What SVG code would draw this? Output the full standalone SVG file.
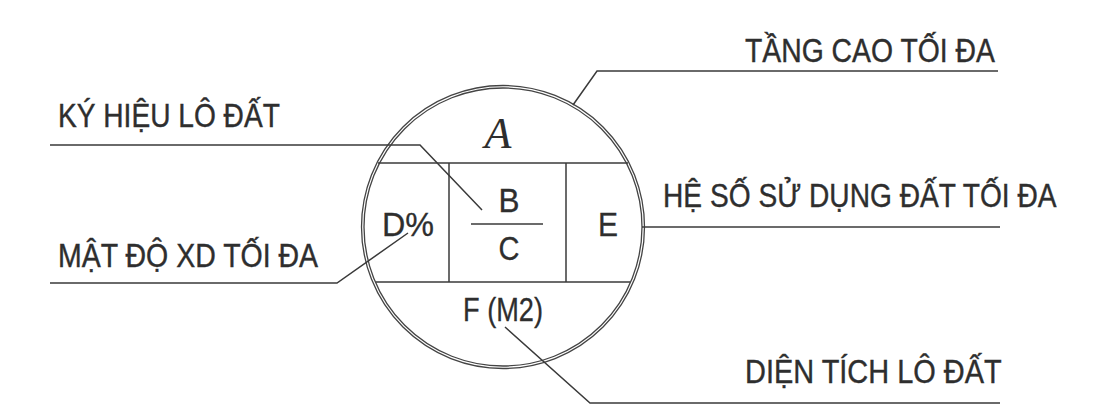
<svg xmlns="http://www.w3.org/2000/svg" width="1112" height="408" viewBox="0 0 1112 408">
<style>
.ln{fill:none;stroke:#3a3a3a;stroke-width:1.5;stroke-linejoin:miter}
.lbl{font-family:"Liberation Sans",Arial,sans-serif;font-size:34px;fill:#2e2e2e;stroke:#2e2e2e;stroke-width:0.4}
.cell{font-family:"Liberation Sans",Arial,sans-serif;font-size:33px;fill:#2e2e2e;stroke:#2e2e2e;stroke-width:0.3;text-anchor:middle}
.ring{fill:none;stroke:#444;stroke-width:1.3}
</style>
<rect width="1112" height="408" fill="#ffffff"/>
<g id="symbol">
<circle class="ring" cx="503" cy="227" r="139"/>
<circle class="ring" cx="503" cy="227" r="141.5"/>
<line class="ln" x1="378" y1="163" x2="628" y2="163"/>
<line class="ln" x1="376" y1="282" x2="630" y2="282"/>
<line class="ln" x1="449" y1="163" x2="449" y2="282"/>
<line class="ln" x1="566" y1="163" x2="566" y2="282"/>
<line class="ln" x1="471" y1="224" x2="543" y2="224"/>
<text x="498" y="148" font-family="'Liberation Serif','Times New Roman',serif" font-style="italic" font-size="44" fill="#2e2e2e" text-anchor="middle">A</text>
<text class="cell" x="408" y="236" textLength="52" lengthAdjust="spacingAndGlyphs">D%</text>
<text class="cell" x="509" y="212" textLength="21" lengthAdjust="spacingAndGlyphs">B</text>
<text class="cell" x="509" y="260" textLength="21" lengthAdjust="spacingAndGlyphs">C</text>
<text class="cell" x="608" y="236" textLength="20" lengthAdjust="spacingAndGlyphs">E</text>
<text class="cell" x="503" y="321" textLength="80" lengthAdjust="spacingAndGlyphs">F (M2)</text>
</g>
<g id="label-tang-cao">
<text class="lbl" transform="translate(745 62) scale(0.85 1)" x="0" y="0" textLength="294" lengthAdjust="spacingAndGlyphs">TẦNG CAO TỐI ĐA</text>
</g>
<g id="label-ky-hieu">
<text class="lbl" transform="translate(58 127) scale(0.85 1)" x="0" y="0" textLength="261" lengthAdjust="spacingAndGlyphs">KÝ HIỆU LÔ ĐẤT</text>
</g>
<g id="label-he-so">
<text class="lbl" transform="translate(663 207) scale(0.85 1)" x="0" y="0" textLength="463" lengthAdjust="spacingAndGlyphs">HỆ SỐ SỬ DỤNG ĐẤT TỐI ĐA</text>
</g>
<g id="label-mat-do">
<text class="lbl" transform="translate(58 267) scale(0.85 1)" x="0" y="0" textLength="306" lengthAdjust="spacingAndGlyphs">MẬT ĐỘ XD TỐI ĐA</text>
</g>
<g id="label-dien-tich">
<text class="lbl" transform="translate(745 383) scale(0.85 1)" x="0" y="0" textLength="302" lengthAdjust="spacingAndGlyphs">DIỆN TÍCH LÔ ĐẤT</text>
</g>
<g id="connectors">
<polyline class="ln" points="573,105 597,71 998,71"/>
<polyline class="ln" points="50,145 420,145 482,210"/>
<line class="ln" x1="642" y1="227" x2="1000" y2="227"/>
<polyline class="ln" points="50,283 337,283 408,233"/>
<polyline class="ln" points="505,327 590,403 1000,403"/>
</g>
</svg>
